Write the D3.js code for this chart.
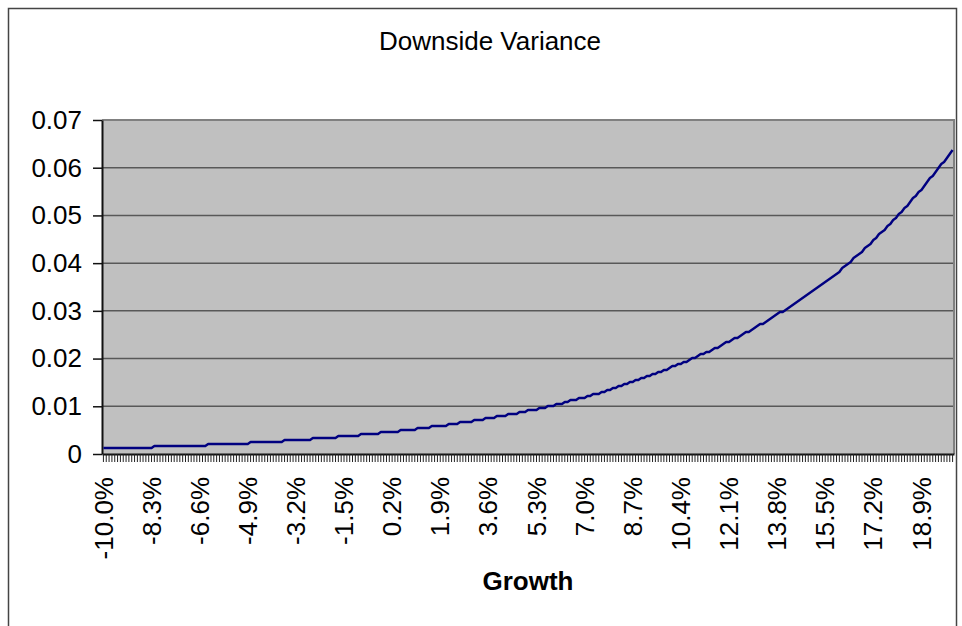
<!DOCTYPE html>
<html>
<head>
<meta charset="utf-8">
<script src="https://cdn.jsdelivr.net/npm/d3@7"></script>
<style>
  html, body { margin: 0; padding: 0; background: #fff; }
  svg { display: block; font-family: "Liberation Sans", Arial, sans-serif; }
</style>
</head>
<body>
<svg id="chart" width="962" height="626"></svg>
<script>
// Growth rates from -10.0% to 20.0% in 0.1% steps (301 categories)
const growth = d3.range(-100, 201).map(i => (i / 10).toFixed(1) + "%");

// Downside variance for each growth rate
const variance = [
  0.00116,0.00117,0.00119,0.00121,0.00122,0.00124,0.00125,0.00127,0.00129,0.00130,
  0.00132,0.00134,0.00136,0.00137,0.00139,0.00141,0.00143,0.00145,0.00147,0.00149,
  0.00151,0.00153,0.00155,0.00157,0.00159,0.00161,0.00163,0.00166,0.00168,0.00170,
  0.00172,0.00175,0.00177,0.00180,0.00182,0.00184,0.00187,0.00189,0.00192,0.00195,
  0.00197,0.00200,0.00203,0.00205,0.00208,0.00211,0.00214,0.00217,0.00220,0.00223,
  0.00226,0.00229,0.00232,0.00235,0.00239,0.00242,0.00245,0.00249,0.00252,0.00256,
  0.00259,0.00263,0.00267,0.00271,0.00275,0.00279,0.00283,0.00287,0.00291,0.00295,
  0.00299,0.00304,0.00308,0.00313,0.00317,0.00322,0.00327,0.00331,0.00336,0.00341,
  0.00346,0.00351,0.00356,0.00361,0.00366,0.00371,0.00376,0.00381,0.00386,0.00392,
  0.00397,0.00403,0.00408,0.00414,0.00420,0.00426,0.00432,0.00438,0.00444,0.00450,
  0.00457,0.00463,0.00469,0.00476,0.00482,0.00489,0.00496,0.00502,0.00509,0.00516,
  0.00523,0.00530,0.00538,0.00545,0.00552,0.00560,0.00567,0.00575,0.00583,0.00591,
  0.00599,0.00607,0.00615,0.00624,0.00632,0.00641,0.00650,0.00659,0.00668,0.00677,
  0.00686,0.00696,0.00705,0.00715,0.00725,0.00735,0.00746,0.00756,0.00767,0.00777,
  0.00788,0.00799,0.00810,0.00821,0.00833,0.00844,0.00856,0.00868,0.00880,0.00893,
  0.00905,0.00918,0.00930,0.00943,0.00957,0.00970,0.00983,0.00997,0.01011,0.01025,
  0.01039,0.01054,0.01068,0.01083,0.01098,0.01113,0.01129,0.01144,0.01160,0.01176,
  0.01192,0.01209,0.01226,0.01243,0.01261,0.01278,0.01296,0.01315,0.01333,0.01352,
  0.01371,0.01390,0.01409,0.01429,0.01449,0.01469,0.01489,0.01510,0.01531,0.01553,
  0.01574,0.01596,0.01617,0.01639,0.01661,0.01684,0.01706,0.01729,0.01753,0.01777,
  0.01801,0.01824,0.01848,0.01872,0.01896,0.01921,0.01946,0.01971,0.01997,0.02023,
  0.02050,0.02076,0.02102,0.02129,0.02157,0.02184,0.02212,0.02241,0.02269,0.02299,
  0.02328,0.02358,0.02387,0.02418,0.02449,0.02480,0.02511,0.02543,0.02576,0.02608,
  0.02642,0.02675,0.02709,0.02744,0.02779,0.02814,0.02850,0.02886,0.02923,0.02960,
  0.02997,0.03034,0.03072,0.03110,0.03148,0.03187,0.03226,0.03266,0.03306,0.03347,
  0.03388,0.03430,0.03472,0.03515,0.03558,0.03602,0.03646,0.03691,0.03736,0.03782,
  0.03829,0.03879,0.03930,0.03982,0.04034,0.04087,0.04141,0.04195,0.04250,0.04306,
  0.04362,0.04419,0.04477,0.04535,0.04594,0.04654,0.04714,0.04776,0.04838,0.04901,
  0.04965,0.05027,0.05090,0.05154,0.05218,0.05283,0.05350,0.05417,0.05484,0.05553,
  0.05622,0.05693,0.05765,0.05838,0.05912,0.05986,0.06062,0.06138,0.06216,0.06294,
  0.06374
];

// Labelled categories on the x axis (every 17th growth rate)
const xTickLabels = ["-10.0%","-8.3%","-6.6%","-4.9%","-3.2%","-1.5%","0.2%","1.9%","3.6%",
                     "5.3%","7.0%","8.7%","10.4%","12.1%","13.8%","15.5%","17.2%","18.9%"];
// Value axis ticks
const yTicks = [0, 0.01, 0.02, 0.03, 0.04, 0.05, 0.06, 0.07];

const chartTitle = "Downside Variance";
const xTitle = "Growth";

const W = 962, H = 626;
const plot = { left: 102, right: 954, top: 120, bottom: 454 };
const FONT = 26;

const svg = d3.select("#chart");
svg.append("rect").attr("width", W).attr("height", H).attr("fill", "#fff");

// Outer chart frame
svg.append("rect")
  .attr("x", 8.5).attr("y", 8.5)
  .attr("width", 948).attr("height", 660)
  .attr("fill", "none").attr("stroke", "#444").attr("stroke-width", 1.5);

const x = d3.scaleBand().domain(growth).range([plot.left, plot.right]).padding(0);
const y = d3.scaleLinear().domain([0, 0.07]).range([plot.bottom, plot.top]);

// Plot area background
svg.append("rect")
  .attr("x", plot.left).attr("y", plot.top)
  .attr("width", plot.right - plot.left).attr("height", plot.bottom - plot.top)
  .attr("fill", "#c0c0c0");

// Horizontal gridlines
svg.append("g").selectAll("line")
  .data(yTicks.filter(t => t > 0 && t < 0.07))
  .join("line")
  .attr("x1", plot.left).attr("x2", plot.right)
  .attr("y1", d => y(d)).attr("y2", d => y(d))
  .attr("stroke", "#585858").attr("stroke-width", 1.5);

// Top and right edges of the plot area
svg.append("path")
  .attr("d", `M${plot.left},${y(0.07)}H${plot.right}V${plot.bottom}`)
  .attr("fill", "none").attr("stroke", "#808080").attr("stroke-width", 2);

// Value axis
const yAxis = svg.append("g")
  .attr("transform", `translate(${plot.left},0)`)
  .call(d3.axisLeft(y).tickValues(yTicks).tickSize(9).tickSizeOuter(0).tickPadding(11)
    .tickFormat(d => d === 0 ? "0" : d.toFixed(2)));
yAxis.select(".domain").attr("stroke", "#111").attr("stroke-width", 2);
yAxis.selectAll(".tick line").attr("stroke", "#111").attr("stroke-width", 1.5);
yAxis.selectAll("text").attr("font-size", FONT).attr("fill", "#000")
  .attr("font-family", "Liberation Sans, Arial, sans-serif");

// Category axis: a tick for every growth rate
const xAxis = svg.append("g")
  .attr("transform", `translate(0,${plot.bottom})`)
  .call(d3.axisBottom(x).tickSize(8).tickSizeOuter(0).tickFormat(""));
xAxis.select(".domain").attr("stroke", "#111").attr("stroke-width", 2);
xAxis.selectAll(".tick line").attr("stroke", "#222").attr("stroke-width", 1);

// Category labels, rotated
const xLabels = svg.append("g")
  .attr("transform", `translate(0,${plot.bottom})`)
  .call(d3.axisBottom(x).tickValues(xTickLabels).tickSize(0).tickSizeOuter(0));
xLabels.select(".domain").remove();
xLabels.selectAll("text")
  .attr("font-size", FONT).attr("fill", "#000")
  .attr("font-family", "Liberation Sans, Arial, sans-serif")
  .attr("transform", "rotate(-90)")
  .attr("text-anchor", "end")
  .attr("x", -23).attr("y", 0).attr("dy", "0.35em");

// Variance line, snapped to a 2px vertical grid for a stepped look
const line = d3.line()
  .x((d, i) => x(growth[i]) + x.bandwidth() / 2)
  .y(d => Math.round(y(d) / 2) * 2);
svg.append("path")
  .datum(variance)
  .attr("d", line)
  .attr("fill", "none")
  .attr("stroke", "#000080")
  .attr("stroke-width", 2.4)
  .attr("stroke-linejoin", "round");

// Titles
svg.append("text")
  .attr("x", 490).attr("y", 50)
  .attr("text-anchor", "middle")
  .attr("font-size", FONT).attr("fill", "#000")
  .text(chartTitle);

svg.append("text")
  .attr("x", (plot.left + plot.right) / 2).attr("y", 590)
  .attr("text-anchor", "middle")
  .attr("font-size", FONT).attr("font-weight", "bold").attr("fill", "#000")
  .text(xTitle);
</script>
</body>
</html>
